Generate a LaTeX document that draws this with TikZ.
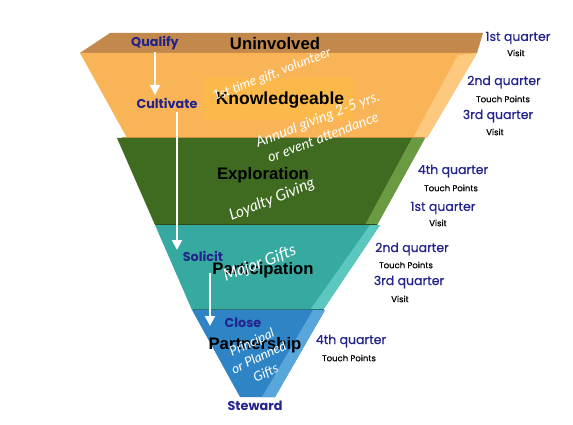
\documentclass[tikz,border=0pt]{standalone}
\usepackage{fontspec}
\setmainfont{Liberation Sans}
\newfontfamily\mont{Poppins}
\newfontfamily\montM[FakeBold=0.6]{Poppins}
\newfontfamily\hand{Lato}
\usetikzlibrary{arrows.meta}
\definecolor{navy}{HTML}{23238C}
\definecolor{cbrown}{HTML}{C3884C}
\definecolor{corange}{HTML}{F9B457}
\definecolor{corangeL}{HTML}{FDC97E}
\definecolor{corangeR}{HTML}{FBB94C}
\definecolor{cgreen}{HTML}{3E6B20}
\definecolor{cgreenL}{HTML}{6A9B43}
\definecolor{cteal}{HTML}{36A9A1}
\definecolor{ctealL}{HTML}{5CC7BF}
\definecolor{cblue}{HTML}{2F84C6}
\definecolor{cblueL}{HTML}{58A6DA}
\begin{document}
\begin{tikzpicture}[x=1pt,y=-1pt,
  main/.style={font=\fontsize{16.7}{18}\selectfont\bfseries, text=black, inner sep=0pt},
  stage/.style={font=\mont\bfseries\fontsize{12.8}{14}\selectfont, text=navy, inner sep=0pt},
  qtr/.style={font=\montM\fontsize{12.5}{14}\selectfont, text=navy, inner sep=0pt},
  sub/.style={font=\montM\fontsize{8.5}{10}\selectfont, text=black, inner sep=0pt},
  hw/.style={font=\hand\itshape\fontsize{14}{16.5}\selectfont, text=white, inner sep=0pt, align=center},
  flow/.style={white, line width=2pt, -{Triangle[width=10pt,length=10pt]}}]
\useasboundingbox (0,0) rectangle (573,425);
\fill[white] (0,0) rectangle (573,425);
% bands
\fill[cbrown] (110,33) -- (483,33) -- (477,53) -- (80,53) -- cycle;
\fill[corange] (80,53) -- (477,53) -- (427,138) -- (127,138) -- cycle;
\fill[corangeL] (458,55) -- (477,53) -- (427,138) -- (413,138) -- cycle;
\fill[corangeR] (203,78) rectangle (353,120);
\fill[cgreen] (117,138) -- (425,138) -- (377,225) -- (155,225) -- cycle;
\fill[cgreenL] (412,138) -- (425,138) -- (377,225) -- (365,225) -- cycle;
\draw[corange!80!black, line width=1.2pt] (122,137.5) -- (424,137.5);
\fill[cteal] (155,225) -- (380,225) -- (323,310) -- (192,310) -- cycle;
\fill[ctealL] (370,225) -- (380,225) -- (323,310) -- (310,310) -- cycle;
\draw[cgreen!70!black, line width=1.2pt] (156,224.5) -- (377,224.5);
\fill[cblue] (192,310) -- (325,310) -- (275,397) -- (240,397) -- cycle;
\fill[cblueL] (313,310) -- (325,310) -- (275,397) -- (262,397) -- cycle;
\draw[cteal!70!black, line width=1.2pt] (193,309.5) -- (324,309.5);
% main labels
\node[main] (unin) at (275,44) {Uninvolved};
\node[main, font=\fontsize{17.5}{19}\selectfont\bfseries] (know) at (280,100) {Knowledgeable};
\node[main] (expl) at (263,175) {Exploration};
\node[main] (part) at (263,270) {Participation};
\node[main] (ptn) at (255,345) {Partnership};
% handwriting
\node[hw, rotate=21, font=\hand\itshape\fontsize{13.4}{16}\selectfont] (h1) at (272,75) {1st time gift, volunteer};
\node[hw, rotate=21, font=\hand\itshape\fontsize{14.5}{16}\selectfont] (h2) at (318,120) {Annual giving 2-5 yrs.};
\node[hw, rotate=21, font=\hand\itshape\fontsize{14.2}{16}\selectfont] (h3) at (323,137) {or event attendance};
\node[hw, rotate=22, font=\hand\itshape\fontsize{15.5}{16}\selectfont] (h4) at (272,200) {Loyalty Giving};
\node[hw, rotate=21, font=\hand\itshape\fontsize{16.5}{16}\selectfont] (h5) at (260,264) {Major Gifts};
\node[hw, rotate=25, font=\hand\itshape\fontsize{13.2}{16.5}\selectfont] (h6) at (259,358) {Principal\\or Planned\\Gifts};
% stage labels
\node[stage] (qual) at (155,43) {Qualify};
\node[stage] (cult) at (167,103) {Cultivate};
\node[stage] (sol) at (203,256) {Solicit};
\node[stage] (clo) at (243,323) {Close};
\node[stage] (stew) at (255,406) {Steward};
% arrows
\coordinate (a1s) at (155,52);
\coordinate (a1e) at (155,95);
\coordinate (a2s) at (177,112);
\coordinate (a2e) at (177,250);
\coordinate (a3s) at (210,273);
\coordinate (a3e) at (210,326);
\draw[flow] (a1s) -- (a1e);
\draw[flow] (a2s) -- (a2e);
\draw[flow] (a3s) -- (a3e);
% quarters
\node[qtr] (q1) at (518,38) {1st quarter};
\node[sub] (s1) at (516,53) {Visit};
\node[qtr] (q2) at (504,82) {2nd quarter};
\node[sub] (s2) at (503,99) {Touch Points};
\node[qtr] (q3) at (498,116) {3rd quarter};
\node[sub] (s3) at (495,132) {Visit};
\node[qtr] (q4) at (453,171) {4th quarter};
\node[sub] (s4) at (451,188) {Touch Points};
\node[qtr] (q5) at (443,208) {1st quarter};
\node[sub] (s5) at (438,223) {Visit};
\node[qtr] (q6) at (412,249) {2nd quarter};
\node[sub] (s6) at (406,265) {Touch Points};
\node[qtr] (q7) at (409,282) {3rd quarter};
\node[sub] (s7) at (400,299) {Visit};
\node[qtr] (q8) at (351,341) {4th quarter};
\node[sub] (s8) at (349,358) {Touch Points};
\end{tikzpicture}
\end{document}
